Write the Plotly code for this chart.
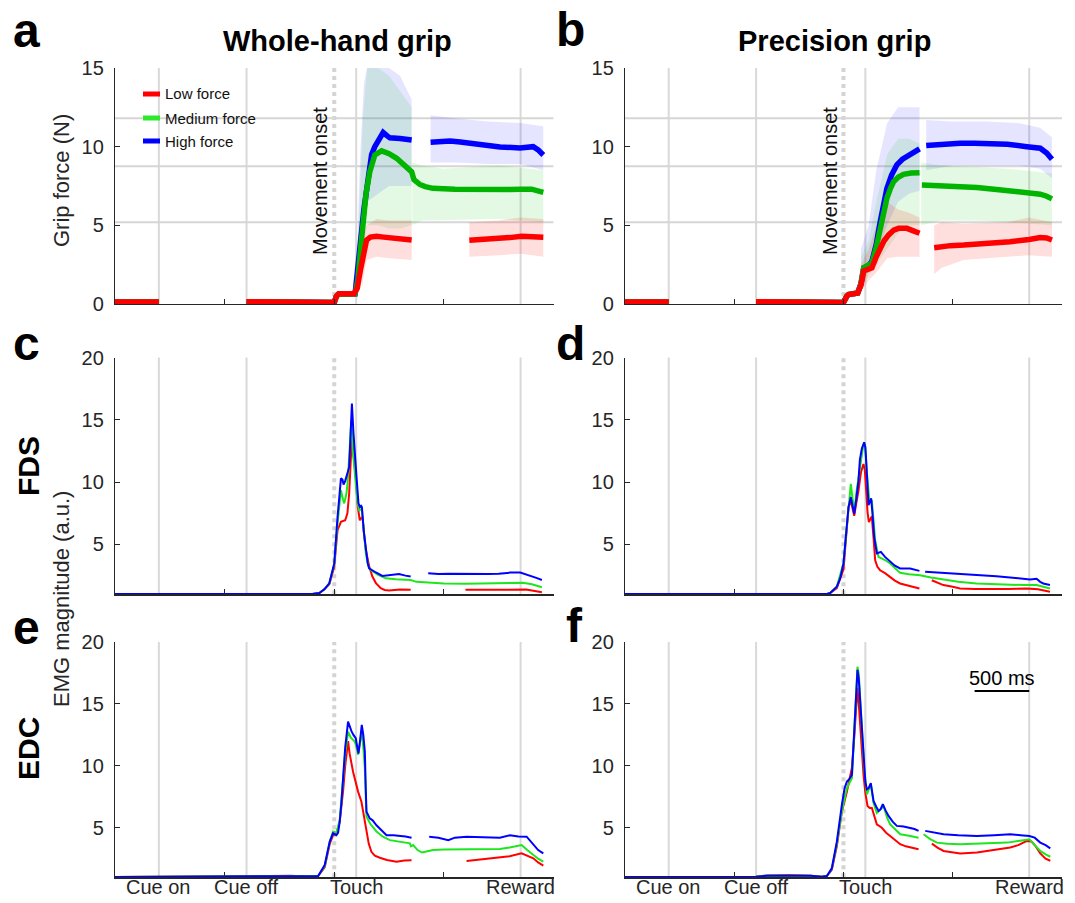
import plotly.graph_objects as go

W, H = 1075, 903

# ---------------- event markers (ms relative to movement onset) ----------------
EVENT_MS = [-1600, -800, 200, 1700]
EVENT_LABELS = ["Cue on", "Cue off", "Touch", "Reward"]
MOVEMENT_ONSET_MS = 0
X_TICKS = [-1000, 0, 1000, 2000]
FORCE_THRESHOLDS = [5.2, 8.75, 11.8]
SCALEBAR_MS = [1200, 1700]
SCALEBAR_Y = 16.05

# ---------------- Panel a : whole-hand grip force (means) ----------------
a_low_x = [-2000, -1600, None, -800, -300, -100, 0, 20, 40, 180, 210, 240, 270, 295, 330, 386, 450, 550, 650, 706,
           None, 1232, 1400, 1512, 1600, 1709, 1800, 1907]
a_low_y = [0.12, 0.12, None, 0.14, 0.12, 0.14, 0.1, 0.5, 0.65, 0.65, 1.0, 2.2, 3.5, 4.07, 4.25, 4.3, 4.25, 4.15, 4.1, 4.07,
           None, 4.05, 4.1, 4.17, 4.22, 4.3, 4.3, 4.25]
a_med_x = [-2000, -1600, None, -800, -300, 0, 20, 40, 190, 215, 240, 263, 290, 324, 370, 432, 500, 569, 620, 660, 706,
           727, 780, 830, 900, 1100, 1400, 1600, 1700, 1800, 1907]
a_med_y = [0.12, 0.12, None, 0.14, 0.12, 0.1, 0.5, 0.62, 0.65, 1.5, 3.5, 5.23, 7.0, 8.4, 9.47, 9.73, 9.55, 9.26, 8.95, 8.6, 8.4,
           7.9, 7.6, 7.46, 7.35, 7.3, 7.25, 7.28, 7.3, 7.3, 7.1]
a_high_x = [-2000, -1600, None, -800, -300, 0, 20, 40, 190, 215, 240, 270, 295, 320, 341, 370, 400, 446, 480, 508, 600, 706,
            None, 879, 960, 1056, 1150, 1269, 1400, 1512, 1694, 1815, 1860, 1907]
a_high_y = [0.12, 0.12, None, 0.14, 0.12, 0.1, 0.5, 0.62, 0.65, 2.0, 4.0, 6.0, 7.35, 8.7, 9.5, 10.0, 10.3, 10.9, 10.7, 10.56, 10.52, 10.42,
            None, 10.28, 10.35, 10.36, 10.3, 10.2, 10.05, 9.98, 9.92, 10.0, 9.8, 9.47]

# single-trial spread (envelopes) panel a
a_low_band_x = [250, 295, 386, 500, 706, None, 1232, 1500, 1700, 1907]
a_low_band_lo = [1.0, 2.8, 3.0, 2.9, 2.8, None, 3.0, 3.1, 3.2, 3.0]
a_low_band_hi = [4.0, 5.0, 5.4, 5.3, 5.3, None, 5.2, 5.3, 5.5, 5.4]
a_med_band_x = [215, 240, 263, 300, 400, 500, 600, 706, None, 712, 800, 1000, 1500, 1907]
a_med_band_lo = [0.8, 2.0, 3.5, 5.0, 5.0, 4.8, 4.8, 5.0, None, 5.0, 5.3, 5.3, 5.4, 5.2]
a_med_band_hi = [3.5, 8.0, 12.0, 15.0, 15.0, 14.5, 13.5, 12.5, None, 9.0, 8.8, 8.6, 8.8, 8.5]
a_high_band_x = [215, 240, 270, 300, 400, 500, 600, 706, None, 879, 1100, 1400, 1700, 1907]
a_high_band_lo = [1.0, 3.0, 5.0, 6.5, 7.0, 7.5, 7.5, 7.5, None, 9.0, 9.0, 8.9, 8.9, 8.5]
a_high_band_hi = [5.0, 10.0, 14.0, 15.0, 15.0, 15.0, 14.5, 13.0, None, 12.0, 11.8, 11.6, 11.5, 11.3]

# ---------------- Panel b : precision grip force (means) ----------------
b_low_x = [-2000, -1600, None, -800, -300, 0, 30, 46, 130, 160, 185, 230, 260, 300, 336, 370, 413, 460, 504, 580, 640, 696,
           None, 830, 900, 977, 1100, 1221, 1400, 1526, 1700, 1801, 1860, 1908]
b_low_y = [0.12, 0.12, None, 0.14, 0.12, 0.1, 0.5, 0.6, 0.7, 1.2, 2.1, 2.2, 2.3, 3.0, 3.54, 4.0, 4.39, 4.7, 4.81, 4.81, 4.65, 4.5,
           None, 3.58, 3.65, 3.71, 3.75, 3.8, 3.88, 3.96, 4.1, 4.22, 4.2, 4.07]
b_med_x = [-2000, -1600, None, -800, -300, 0, 30, 46, 130, 160, 185, 230, 260, 300, 336, 365, 397, 430, 458, 500, 549, 620, 696,
           None, 718, 800, 916, 1100, 1221, 1400, 1526, 1700, 1801, 1860, 1908]
b_med_y = [0.12, 0.12, None, 0.14, 0.12, 0.1, 0.5, 0.6, 0.7, 1.3, 2.3, 2.45, 2.6, 3.6, 4.81, 5.8, 6.71, 7.35, 7.77, 8.05, 8.24, 8.32, 8.35,
           None, 7.57, 7.55, 7.53, 7.45, 7.4, 7.28, 7.19, 7.05, 6.98, 6.85, 6.68]
b_high_x = [-2000, -1600, None, -800, -300, 0, 30, 46, 130, 160, 185, 230, 260, 300, 336, 365, 397, 440, 488, 540, 595, 650, 696,
            None, 757, 900, 1068, 1200, 1373, 1500, 1679, 1750, 1801, 1860, 1908]
b_high_y = [0.12, 0.12, None, 0.14, 0.12, 0.1, 0.5, 0.6, 0.7, 1.3, 2.3, 2.45, 2.7, 3.8, 5.23, 6.3, 7.35, 8.2, 8.84, 9.2, 9.47, 9.7, 9.86,
            None, 10.07, 10.15, 10.22, 10.22, 10.22, 10.15, 10.0, 9.95, 9.9, 9.6, 9.2]

b_low_band_x = [160, 230, 300, 400, 500, 600, 696, None, 830, 900, 1100, 1500, 1700, 1908]
b_low_band_lo = [0.8, 1.5, 2.0, 2.9, 3.0, 3.0, 3.0, None, 1.9, 2.3, 2.8, 3.0, 3.1, 3.0]
b_low_band_hi = [2.5, 3.5, 5.0, 6.5, 6.0, 5.8, 5.5, None, 5.0, 5.2, 5.1, 5.2, 5.5, 5.2]
b_med_band_x = [160, 230, 300, 400, 500, 600, 696, None, 712, 900, 1200, 1500, 1908]
b_med_band_lo = [0.9, 1.8, 2.5, 3.5, 4.5, 5.0, 5.0, None, 5.0, 5.3, 5.3, 5.2, 5.0]
b_med_band_hi = [3.0, 4.0, 6.5, 9.5, 10.5, 10.5, 10.2, None, 9.0, 8.8, 8.7, 8.6, 8.3]
b_high_band_x = [160, 230, 300, 400, 500, 600, 696, None, 757, 1000, 1300, 1600, 1800, 1908]
b_high_band_lo = [1.0, 2.0, 3.0, 5.0, 6.5, 7.0, 7.2, None, 8.5, 8.8, 8.8, 8.8, 8.6, 8.0]
b_high_band_hi = [3.5, 5.0, 8.5, 11.5, 12.5, 12.5, 12.5, None, 11.7, 11.6, 11.6, 11.5, 11.2, 10.6]

# ---------------- Panel c : FDS, whole-hand grip ----------------
c_low_x = [-2000, -200, -136, -90, -45, 0, 30, 61, 100, 120, 136, 150, 161, 175, 197, 215, 233, 245, 258, 270, 288, 320, 348, 380,
           424, 460, 500, 600, 697, None, 1197, 1350, 1500, 1652, 1750, 1803, 1894]
c_low_y = [1.03, 1.03, 1.1, 1.4, 1.8, 3.2, 6.14, 6.81, 6.94, 7.5, 9.08, 12.0, 13.6, 12.2, 10.4, 8.0, 6.94, 7.1, 7.2, 6.0, 4.55, 3.2, 2.42, 1.9,
           1.49, 1.35, 1.3, 1.38, 1.36, None, 1.36, 1.38, 1.4, 1.41, 1.38, 1.3, 1.17]
c_med_x = [-2000, -200, -136, -90, -45, 0, 30, 50, 61, 80, 91, 110, 121, 140, 155, 170, 191, 210, 227, 240, 252, 270, 288, 310, 333,
           400, 470, 560, 697, 750, 894, 1000, 1197, 1400, 1652, 1720, 1803, 1850, 1894]
c_med_y = [1.03, 1.03, 1.1, 1.4, 1.9, 3.4, 6.67, 8.8, 9.35, 8.6, 8.3, 9.0, 9.9, 12.5, 14.96, 12.5, 10.4, 8.5, 7.7, 7.8, 7.8, 6.0, 4.3, 3.3, 2.95,
           2.55, 2.28, 2.2, 2.15, 2.0, 1.89, 1.86, 1.84, 1.88, 1.94, 1.92, 1.8, 1.7, 1.56]
c_high_x = [-2000, -200, -136, -90, -45, 0, 30, 50, 61, 75, 85, 100, 120, 136, 150, 161, 175, 190, 205, 221, 235, 245, 252, 270, 288,
            305, 318, 348, 380, 439, 500, 591, 650, 697, None, 857, 950, 1050, 1197, 1300, 1400, 1500, 1606, 1697, 1750, 1803, 1850, 1894]
c_high_y = [1.03, 1.03, 1.1, 1.4, 1.88, 3.48, 7.2, 9.5, 10.3, 10.2, 9.8, 10.1, 10.8, 11.2, 14.0, 16.3, 14.0, 11.6, 10.2, 8.3, 8.0, 8.1, 8.0, 6.0, 4.55,
            3.5, 3.08, 2.95, 2.75, 2.47, 2.55, 2.63, 2.5, 2.42, None, 2.68, 2.62, 2.65, 2.63, 2.65, 2.62, 2.65, 2.74, 2.74, 2.6, 2.42, 2.3, 2.15]

# ---------------- Panel d : FDS, precision grip ----------------
d_low_x = [-2000, -150, -122, -61, 0, 20, 46, 67, 85, 98, 115, 137, 160, 183, 195, 207, 220, 232, 245, 259, 275, 290, 310, 335, 380,
           427, 470, 518, 610, 695, None, 808, 850, 914, 1000, 1067, 1200, 1372, 1500, 1676, 1780, 1890]
d_low_y = [1.03, 1.03, 1.1, 1.5, 3.0, 5.3, 8.0, 8.5, 7.7, 7.3, 8.2, 9.3, 10.8, 11.45, 11.0, 9.3, 7.6, 6.8, 7.0, 7.25, 5.5, 3.73, 3.2, 2.93, 2.7,
           2.4, 2.1, 1.87, 1.65, 1.47, None, 2.13, 1.95, 1.74, 1.6, 1.47, 1.42, 1.39, 1.42, 1.47, 1.4, 1.2]
d_med_x = [-2000, -150, -122, -61, 0, 20, 46, 67, 85, 101, 120, 153, 175, 192, 200, 213, 238, 259, 275, 290, 320, 380, 427, 470, 518,
           600, 701, 800, 914, 1050, 1219, 1400, 1524, 1650, 1768, 1830, 1890]
d_med_y = [1.03, 1.03, 1.1, 1.6, 3.5, 5.6, 8.0, 9.86, 8.5, 7.86, 9.3, 11.5, 12.6, 13.2, 12.6, 10.9, 8.4, 8.55, 6.8, 5.35, 4.0, 3.75, 3.47, 3.1, 2.72,
           2.6, 2.53, 2.35, 2.19, 2.0, 1.87, 1.8, 1.74, 1.74, 1.74, 1.6, 1.47]
d_high_x = [-2000, -150, -122, -61, -30, 0, 20, 46, 67, 80, 98, 115, 137, 150, 168, 189, 200, 207, 218, 229, 240, 253, 265, 281, 305,
            342, 380, 427, 470, 518, 610, 695, None, 747, 914, 1050, 1219, 1400, 1524, 1650, 1707, 1768, 1800, 1829, 1890]
d_high_y = [1.03, 1.03, 1.1, 1.61, 2.3, 3.48, 5.5, 7.99, 8.8, 8.2, 7.46, 8.5, 10.1, 11.8, 12.7, 13.2, 12.8, 11.8, 9.5, 8.15, 8.4, 8.7, 7.5, 5.61, 4.28,
            4.4, 4.0, 3.6, 3.3, 3.07, 3.07, 2.88, None, 2.8, 2.72, 2.65, 2.53, 2.45, 2.35, 2.25, 2.19, 2.24, 2.0, 1.87, 1.74]

# ---------------- Panel e : EDC, whole-hand grip ----------------
e_low_x = [-2000, -800, -600, -400, -250, -200, -147, -87, -41, -11, 20, 50, 81, 100, 126, 140, 172, 200, 218, 248, 265, 294, 315, 339,
           370, 416, 480, 568, 640, 705, None, 1207, 1300, 1400, 1511, 1600, 1709, 1760, 1816, 1860, 1907]
e_low_y = [1.03, 1.05, 1.1, 1.12, 1.08, 1.05, 1.1, 1.8, 3.7, 4.4, 4.5, 5.5, 8.0, 10.0, 12.0, 11.0, 9.5, 8.5, 7.9, 7.1, 6.3, 4.95, 3.7, 3.06,
           2.75, 2.58, 2.4, 2.26, 2.35, 2.37, None, 2.31, 2.4, 2.5, 2.58, 2.7, 2.93, 2.75, 2.53, 2.2, 1.94]
e_med_x = [-2000, -800, -600, -400, -250, -200, -147, -87, -41, -11, 20, 50, 81, 100, 126, 150, 187, 200, 218, 235, 251, 265, 279, 294,
           330, 385, 440, 507, 600, 690, 700, 720, 760, 800, 850, 903, 1000, 1207, 1350, 1511, 1600, 1709, 1760, 1816, 1860, 1907]
e_med_y = [1.03, 1.05, 1.08, 1.1, 1.06, 1.05, 1.1, 1.9, 3.9, 4.7, 4.6, 5.6, 8.7, 11.0, 12.77, 12.3, 11.96, 11.6, 10.9, 12.0, 12.8, 11.5, 9.8, 5.9,
           5.3, 4.7, 4.3, 4.0, 3.85, 3.74, 3.5, 3.6, 3.2, 3.0, 3.1, 3.2, 3.25, 3.28, 3.28, 3.28, 3.4, 3.6, 3.2, 2.8, 2.5, 2.26]
e_high_x = [-2000, -800, -600, -400, -250, -200, -147, -87, -41, -11, 20, 35, 50, 65, 81, 100, 126, 140, 157, 175, 196, 210, 221, 235,
            251, 265, 279, 288, 294, 324, 350, 385, 430, 477, 540, 598, 650, 705, None, 866, 950, 1040, 1100, 1207, 1350, 1511, 1603,
            1680, 1755, 1790, 1816, 1860, 1907]
e_high_y = [1.03, 1.04, 1.06, 1.08, 1.05, 1.05, 1.1, 1.99, 3.88, 4.56, 4.4, 4.6, 5.5, 7.0, 9.27, 11.5, 13.57, 13.2, 12.8, 12.5, 12.23, 11.5, 11.0, 12.0,
            13.3, 12.5, 11.15, 8.0, 6.3, 5.76, 5.6, 5.2, 4.8, 4.4, 4.4, 4.37, 4.3, 4.2, None, 4.28, 4.2, 4.0, 4.2, 4.28, 4.25, 4.2, 4.4,
            4.3, 4.28, 3.9, 3.6, 3.2, 2.93]

# ---------------- Panel f : EDC, precision grip ----------------
f_low_x = [-2000, -800, -700, -500, -300, -200, -152, -107, -61, -15, 31, 77, 100, 128, 140, 159, 170, 183, 200, 220, 240, 260, 280,
           305, 351, 390, 427, 470, 519, 570, 610, 687, None, 809, 860, 916, 1000, 1068, 1221, 1373, 1526, 1600, 1679, 1720, 1760,
           1801, 1850, 1893]
f_low_y = [1.03, 1.05, 1.14, 1.18, 1.12, 1.05, 1.1, 1.6, 3.5, 6.3, 7.9, 9.86, 12.5, 16.3, 15.0, 12.5, 10.5, 9.3, 7.8, 6.76, 6.6, 6.6, 6.0,
           5.28, 5.0, 4.6, 4.34, 4.0, 3.67, 3.5, 3.4, 3.26, None, 3.72, 3.4, 3.13, 3.0, 2.93, 3.0, 3.2, 3.4, 3.6, 3.94, 3.9, 3.5,
           2.93, 2.5, 2.34]
f_med_x = [-2000, -800, -700, -500, -300, -200, -152, -107, -61, -15, 31, 77, 100, 128, 140, 159, 175, 189, 214, 230, 250, 275, 305,
           340, 366, 400, 427, 470, 519, 600, 687, None, 733, 790, 855, 950, 1068, 1200, 1373, 1500, 1648, 1701, 1750, 1801, 1850, 1893]
f_med_y = [1.03, 1.05, 1.14, 1.16, 1.12, 1.05, 1.1, 1.7, 3.7, 6.3, 8.2, 9.0, 13.5, 18.0, 17.4, 14.4, 11.5, 9.86, 7.7, 8.0, 8.5, 7.0, 6.2,
           6.5, 6.76, 5.8, 5.28, 4.9, 4.48, 4.35, 4.2, None, 4.48, 4.1, 3.8, 3.7, 3.67, 3.7, 3.72, 3.8, 4.0, 4.07, 3.6, 3.13, 2.85, 2.66]
f_high_x = [-2000, -800, -700, -500, -300, -200, -152, -107, -61, -15, 10, 31, 50, 77, 95, 107, 128, 140, 153, 168, 183, 200, 214, 230,
            250, 262, 275, 300, 321, 340, 360, 385, 412, 450, 488, 550, 610, 650, 687, None, 748, 830, 916, 1050, 1221, 1380, 1526,
            1620, 1701, 1750, 1801, 1850, 1893]
f_high_y = [1.03, 1.05, 1.12, 1.15, 1.12, 1.05, 1.1, 1.73, 3.88, 6.84, 8.2, 8.73, 8.9, 9.27, 12.5, 15.2, 17.75, 17.0, 15.2, 12.5, 10.4, 8.7, 8.1, 8.2,
            8.6, 7.8, 7.17, 6.7, 6.36, 6.5, 6.9, 6.4, 5.96, 5.5, 5.15, 5.1, 5.0, 4.9, 4.75, None, 4.75, 4.6, 4.48, 4.4, 4.34, 4.4, 4.48,
            4.4, 4.34, 4.2, 3.8, 3.6, 3.34]

# ---------------- styling ----------------
FONT = "Liberation Sans, Arial, Helvetica, sans-serif"
INK = "#262626"
RED, GREEN_MEAN, BLUE = "#ff0000", "#00b400", "#0000ff"
GREEN_EMG, GREEN_LEG = "#1ee61e", "#2ee82e"
BAND = {"low": "rgba(255,0,0,0.13)", "med": "rgba(0,200,0,0.11)", "high": "rgba(0,0,255,0.10)"}
EVENT_GRAY = "#d9d9d9"


def px_x(p):
    return p / W


def px_y(p):
    return 1 - p / H


LEFT = (px_x(115), px_x(553.5))
RIGHT = (px_x(625), px_x(1062))
ROW_A = (px_y(304), px_y(68))
ROW_C = (px_y(594.3), px_y(357.5))
ROW_E = (px_y(877.3), px_y(642))

panels = {
    "a": dict(n="", xd=LEFT, yd=ROW_A, yr=[0, 15], yt=[0, 5, 10, 15]),
    "b": dict(n="2", xd=RIGHT, yd=ROW_A, yr=[0, 15], yt=[0, 5, 10, 15]),
    "c": dict(n="3", xd=LEFT, yd=ROW_C, yr=[1, 20], yt=[5, 10, 15, 20]),
    "d": dict(n="4", xd=RIGHT, yd=ROW_C, yr=[1, 20], yt=[5, 10, 15, 20]),
    "e": dict(n="5", xd=LEFT, yd=ROW_E, yr=[1, 20], yt=[5, 10, 15, 20]),
    "f": dict(n="6", xd=RIGHT, yd=ROW_E, yr=[1, 20], yt=[5, 10, 15, 20]),
}

fig = go.Figure()


def split_none(xs, *ys):
    segs, cur = [], [[] for _ in range(len(ys) + 1)]
    for i, x in enumerate(xs):
        if x is None:
            if cur[0]:
                segs.append(cur)
            cur = [[] for _ in range(len(ys) + 1)]
        else:
            cur[0].append(x)
            for k, y in enumerate(ys):
                cur[k + 1].append(y[i])
    if cur[0]:
        segs.append(cur)
    return segs


def add_band(p, xs, lo, hi, color):
    n = panels[p]["n"]
    px, py = [], []
    for sx, slo, shi in split_none(xs, lo, hi):
        px += sx + sx[::-1] + [None]
        py += shi + slo[::-1] + [None]
    fig.add_trace(go.Scatter(x=px, y=py, mode="lines", fill="toself", fillcolor=color,
                             line=dict(width=0), xaxis="x" + n, yaxis="y" + n,
                             showlegend=False, hoverinfo="skip"))


def add_line(p, xs, ys, color, width):
    n = panels[p]["n"]
    fig.add_trace(go.Scatter(x=xs, y=ys, mode="lines", line=dict(color=color, width=width),
                             xaxis="x" + n, yaxis="y" + n, showlegend=False,
                             hoverinfo="skip", connectgaps=False))


# grip force panels
add_band("a", a_high_band_x, a_high_band_lo, a_high_band_hi, BAND["high"])
add_band("a", a_med_band_x, a_med_band_lo, a_med_band_hi, BAND["med"])
add_band("a", a_low_band_x, a_low_band_lo, a_low_band_hi, BAND["low"])
add_line("a", a_high_x, a_high_y, BLUE, 5.5)
add_line("a", a_med_x, a_med_y, GREEN_MEAN, 5.5)
add_line("a", a_low_x, a_low_y, RED, 5.5)

add_band("b", b_high_band_x, b_high_band_lo, b_high_band_hi, BAND["high"])
add_band("b", b_med_band_x, b_med_band_lo, b_med_band_hi, BAND["med"])
add_band("b", b_low_band_x, b_low_band_lo, b_low_band_hi, BAND["low"])
add_line("b", b_high_x, b_high_y, BLUE, 5.5)
add_line("b", b_med_x, b_med_y, GREEN_MEAN, 5.5)
add_line("b", b_low_x, b_low_y, RED, 5.5)

# EMG panels
for p, lo, me, hi in [("c", (c_low_x, c_low_y), (c_med_x, c_med_y), (c_high_x, c_high_y)),
                      ("d", (d_low_x, d_low_y), (d_med_x, d_med_y), (d_high_x, d_high_y)),
                      ("e", (e_low_x, e_low_y), (e_med_x, e_med_y), (e_high_x, e_high_y)),
                      ("f", (f_low_x, f_low_y), (f_med_x, f_med_y), (f_high_x, f_high_y))]:
    add_line(p, lo[0], lo[1], RED, 2)
    add_line(p, me[0], me[1], GREEN_EMG, 2)
    add_line(p, hi[0], hi[1], BLUE, 2)

layout = dict(width=W, height=H, margin=dict(l=0, r=0, t=0, b=0, pad=0, autoexpand=False),
              paper_bgcolor="white", plot_bgcolor="white", showlegend=False,
              font=dict(family=FONT, color=INK))
shapes, annotations = [], []


def ann(text, x, y, size, color=INK, angle=0, xanchor="center", xref="paper"):
    annotations.append(dict(text=text, x=x, y=y, xref=xref, yref="paper", showarrow=False,
                            textangle=angle, xanchor=xanchor, yanchor="middle",
                            font=dict(size=size, color=color, family=FONT)))


for p, cfg in panels.items():
    n = cfg["n"]
    layout["xaxis" + n] = dict(domain=list(cfg["xd"]), anchor="y" + n, range=[-2000, 2000],
                               showline=True, linecolor=INK, linewidth=1.2, ticks="inside",
                               ticklen=5, tickcolor=INK, tickvals=X_TICKS, showticklabels=False,
                               showgrid=False, zeroline=False, fixedrange=True, automargin=False)
    layout["yaxis" + n] = dict(domain=list(cfg["yd"]), anchor="x" + n, range=cfg["yr"],
                               showline=True, linecolor=INK, linewidth=1.2, ticks="inside",
                               ticklen=5, tickcolor=INK, tickvals=cfg["yt"],
                               tickfont=dict(size=20, color=INK, family=FONT),
                               ticklabelstandoff=6, automargin=False,
                               showgrid=False, zeroline=False, fixedrange=True)
    xa, ya = "x" + n, "y" + n
    for ev in EVENT_MS:
        shapes.append(dict(type="line", xref=xa, yref=ya + " domain", x0=ev, x1=ev, y0=0, y1=1,
                           line=dict(color=EVENT_GRAY, width=2), layer="below"))
    shapes.append(dict(type="line", xref=xa, yref=ya + " domain", x0=MOVEMENT_ONSET_MS, x1=MOVEMENT_ONSET_MS,
                       y0=0, y1=1, line=dict(color="#d4d4d4", width=4, dash="dot"), layer="below"))
    if p in ("a", "b"):
        for t in FORCE_THRESHOLDS:
            shapes.append(dict(type="line", xref=xa + " domain", yref=ya, x0=0, x1=1, y0=t, y1=t,
                               line=dict(color="#d6d6d6", width=2), layer="below"))
        ann("Movement onset", px_x(320 if p == "a" else 830), px_y(181), 20, "#111111", -90)
    if p in ("e", "f"):
        for ev, lab in zip(EVENT_MS, EVENT_LABELS):
            ann(lab, ev, px_y(887), 20, INK, 0, "center", xa)

# scale bar in panel f
shapes.append(dict(type="line", xref="x6", yref="y6", x0=SCALEBAR_MS[0], x1=SCALEBAR_MS[1],
                   y0=SCALEBAR_Y, y1=SCALEBAR_Y, line=dict(color="black", width=2)))
ann("500 ms", (SCALEBAR_MS[0] + SCALEBAR_MS[1]) / 2, px_y(678), 20, "black", 0, "center", "x6")

# panel letters
for lab, x, y in [("a", 26, 31), ("b", 570, 29), ("c", 26, 343), ("d", 570, 343), ("e", 26, 627), ("f", 574, 625)]:
    ann("<b>%s</b>" % lab, px_x(x), px_y(y), 48, "black")

# column titles
ann("<b>Whole-hand grip</b>", px_x(337), px_y(41), 29, "black")
ann("<b>Precision grip</b>", px_x(834), px_y(41), 29, "black")

# axis titles
ann("Grip force (N)", px_x(62), px_y(181), 22, INK, -90)
ann("EMG magnitude (a.u.)", px_x(61), px_y(599), 22, INK, -90)
ann("<b>FDS</b>", px_x(28), px_y(466), 30, "black", -90)
ann("<b>EDC</b>", px_x(28), px_y(749), 30, "black", -90)

# legend (panel a)
for lab, col, yy in [("Low force", RED, 94), ("Medium force", GREEN_LEG, 118), ("High force", BLUE, 141)]:
    shapes.append(dict(type="line", xref="paper", yref="paper", x0=px_x(143), x1=px_x(160),
                       y0=px_y(yy), y1=px_y(yy), line=dict(color=col, width=5)))
    ann(lab, px_x(163), px_y(yy), 15, "#111111", 0, "left")

layout["shapes"] = shapes
layout["annotations"] = annotations
fig.update_layout(**layout)
fig.write_html("out.html", config={"displayModeBar": False, "staticPlot": True},
               post_script="document.body.style.margin='0';document.body.style.padding='0';"
                           "document.body.style.overflow='hidden';")
